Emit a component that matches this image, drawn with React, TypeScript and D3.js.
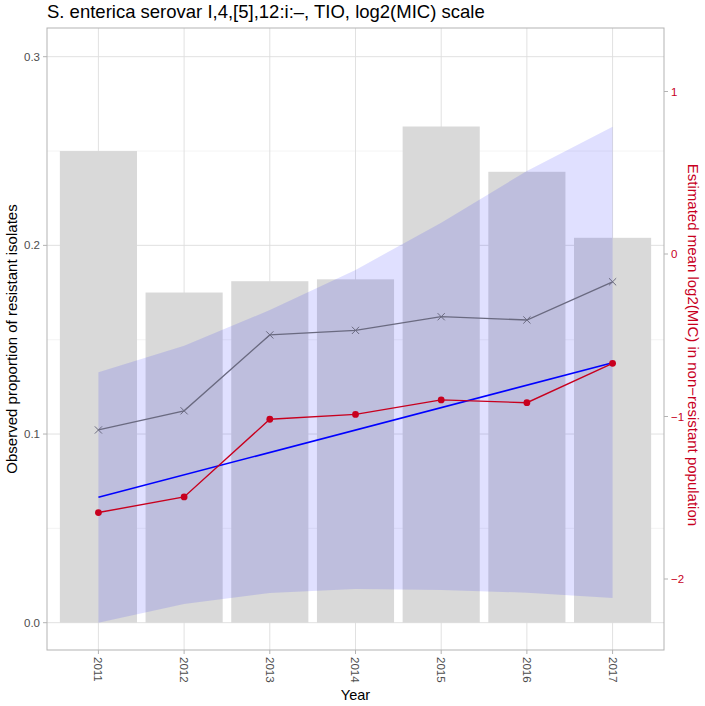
import React from 'react';
import * as d3 from 'd3';

const years = [2011, 2012, 2013, 2014, 2015, 2016, 2017];
const resistantProp = [0.25, 0.175, 0.181, 0.182, 0.263, 0.239, 0.204];
const observedMean = [-1.083, -0.965, -0.498, -0.47, -0.386, -0.406, -0.171];
const estimatedMean = [-1.591, -1.495, -1.017, -0.987, -0.898, -0.915, -0.673];
const ciLower = [-2.269, -2.154, -2.086, -2.062, -2.068, -2.084, -2.117];
const ciUpper = [-0.728, -0.565, -0.345, -0.098, 0.193, 0.511, 0.783];
const trendYears = [2011, 2017];
const trendValues = [-1.497, -0.669];
const leftTicks = [0, 0.1, 0.2, 0.3];
const leftMinor = [0.05, 0.15, 0.25];
const rightTicks = [1, 0, -1, -2];

const W = 705;
const H = 706;
const panel = { left: 47, right: 664, top: 28, bottom: 650 };
const RED = '#c8001e';
const FONT = '"Liberation Sans", Arial, Helvetica, sans-serif';

export default function App() {
  const x = d3.scaleLinear().domain([2010.4, 2017.6]).range([panel.left, panel.right]);
  const yL = d3.scaleLinear().domain([0, 0.3]).range([622.7, 56.7]);
  const yR = d3.scaleLinear().domain([0, 1]).range([254, 91.5]);
  const barW = x(2011.45) - x(2010.55);

  const ribbon = d3.area<number>()
    .x((_, i) => x(years[i]))
    .y0((_, i) => yR(ciLower[i]))
    .y1((d) => yR(d));

  const line = (ys: number[], xs: number[]) =>
    d3.line<number>().x((_, i) => x(xs[i])).y((d) => yR(d))(ys) || '';

  const midY = (panel.top + panel.bottom) / 2;
  const midX = (panel.left + panel.right) / 2;

  return (
    <svg width={W} height={H} style={{ position: 'absolute', left: 0, top: 0, background: '#fff' }}
      fontFamily={FONT}>
      <text x={panel.left} y={17.5} fontSize={18.5} fill="#000">
        S. enterica serovar I,4,[5],12:i:–, TIO, log2(MIC) scale
      </text>

      {/* grid */}
      {leftMinor.map((t) => (
        <line key={'mn' + t} x1={panel.left} x2={panel.right} y1={yL(t)} y2={yL(t)}
          stroke="#ededed" strokeWidth={0.6} />
      ))}
      {leftTicks.map((t) => (
        <line key={'mj' + t} x1={panel.left} x2={panel.right} y1={yL(t)} y2={yL(t)}
          stroke="#dedede" strokeWidth={0.9} />
      ))}
      {years.map((yr) => (
        <line key={'v' + yr} x1={x(yr)} x2={x(yr)} y1={panel.top} y2={panel.bottom}
          stroke="#dedede" strokeWidth={0.9} />
      ))}

      {/* bars */}
      {years.map((yr, i) => (
        <rect key={'b' + yr} x={x(yr) - barW / 2} width={barW} y={yL(resistantProp[i])}
          height={yL(0) - yL(resistantProp[i])} fill="#d9d9d9" />
      ))}

      {/* ribbon */}
      <path d={ribbon(ciUpper) || ''} fill="#0000ff" fillOpacity={0.12} />

      {/* observed line */}
      <path d={line(observedMean, years)} fill="none" stroke="#6a6a80" strokeWidth={1.3} />
      {years.map((yr, i) => {
        const cx = x(yr);
        const cy = yR(observedMean[i]);
        const s = 3.6;
        return (
          <path key={'x' + yr} d={`M${cx - s},${cy - s}L${cx + s},${cy + s}M${cx - s},${cy + s}L${cx + s},${cy - s}`}
            stroke="#6a6a80" strokeWidth={1} />
        );
      })}

      {/* trend */}
      <path d={line(trendValues, trendYears)} fill="none" stroke="#0000ff" strokeWidth={1.6} />

      {/* estimated */}
      <path d={line(estimatedMean, years)} fill="none" stroke={RED} strokeWidth={1.4} />
      {years.map((yr, i) => (
        <circle key={'p' + yr} cx={x(yr)} cy={yR(estimatedMean[i])} r={3.4} fill={RED} />
      ))}

      {/* panel border */}
      <rect x={panel.left} y={panel.top} width={panel.right - panel.left} height={panel.bottom - panel.top}
        fill="none" stroke="#b3b3b3" strokeWidth={1} />

      {/* left axis */}
      {leftTicks.map((t) => (
        <g key={'lt' + t}>
          <line x1={panel.left - 4} x2={panel.left} y1={yL(t)} y2={yL(t)} stroke="#b3b3b3" />
          <text x={panel.left - 7} y={yL(t)} dy="0.35em" textAnchor="end" fontSize={11.5} fill="#4d4d4d">
            {d3.format('.1f')(t)}
          </text>
        </g>
      ))}
      <text transform={`translate(17,${midY}) rotate(-90)`} textAnchor="middle" fontSize={15} fill="#000">
        Observed proportion of resistant isolates
      </text>

      {/* right axis */}
      {rightTicks.map((t) => (
        <g key={'rt' + t}>
          <line x1={panel.right} x2={panel.right + 4} y1={yR(t)} y2={yR(t)} stroke="#b3b3b3" />
          <text x={panel.right + 7} y={yR(t)} dy="0.35em" fontSize={11.5} fill={RED}>
            {t < 0 ? '−' + Math.abs(t) : String(t)}
          </text>
        </g>
      ))}
      <text transform={`translate(688,${midY + 6}) rotate(90)`} textAnchor="middle" fontSize={15} fill={RED}>
        Estimated mean log2(MIC) in non−resistant population
      </text>

      {/* x axis */}
      {years.map((yr) => (
        <g key={'xt' + yr}>
          <line x1={x(yr)} x2={x(yr)} y1={panel.bottom} y2={panel.bottom + 4} stroke="#b3b3b3" />
          <text transform={`translate(${x(yr)},${panel.bottom + 7}) rotate(90)`} dy="0.35em"
            fontSize={11.5} fill="#4d4d4d">
            {yr}
          </text>
        </g>
      ))}
      <text x={midX} y={700} textAnchor="middle" fontSize={14.5} fill="#000">Year</text>
    </svg>
  );
}
